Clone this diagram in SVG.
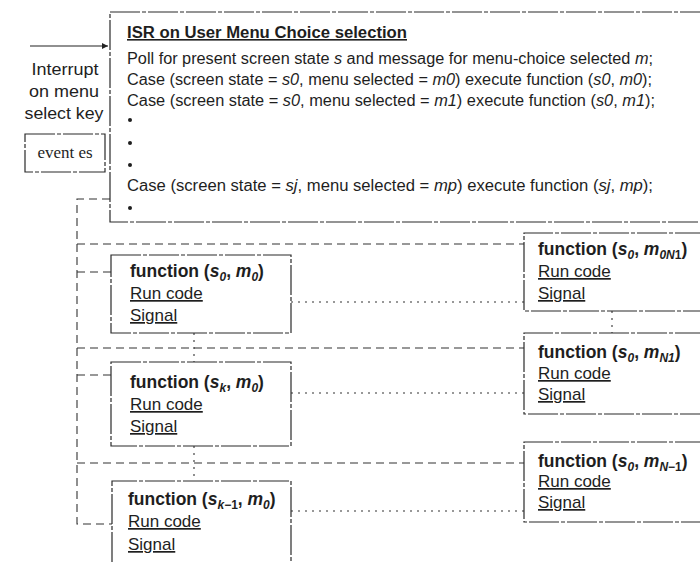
<svg xmlns="http://www.w3.org/2000/svg" width="700" height="562" viewBox="0 0 700 562">
<defs>
<style>
.t{font-family:"Liberation Sans",Arial,Helvetica,sans-serif;fill:#1e1e1e;}
.top{font-size:16px;}
.lbl{font-size:17px;}
.fn{font-size:17.5px;font-weight:bold;}
.rc{font-size:17px;text-decoration:underline;}
.i{font-style:italic;}
.sub{font-size:12px;}
.serif{font-family:"Liberation Serif","Times New Roman",serif;font-size:17px;fill:#1e1e1e;}
.box{fill:none;stroke:#2a2a2a;stroke-width:1.2;stroke-dasharray:30 2 4 2;}
.dash{fill:none;stroke:#333;stroke-width:1.1;stroke-dasharray:8 5;}
.dot{fill:none;stroke:#333;stroke-width:1.1;stroke-dasharray:2 5;}
.arrow{fill:none;stroke:#222;stroke-width:1.2;}
</style>
<marker id="ah" viewBox="0 0 10 10" refX="10" refY="5" markerWidth="7" markerHeight="6" markerUnits="userSpaceOnUse" orient="auto">
<path d="M0 0 L10 5 L0 10 Z" fill="#222"/>
</marker>
</defs>
<rect width="700" height="562" fill="#ffffff"/>

<g id="connectors">
<path class="arrow" d="M30 46 H108" marker-end="url(#ah)"/>
<path class="dash" d="M110 199 H77 V524 H112"/>
<path class="dash" d="M77 244 H524"/>
<path class="dash" d="M77 272 H111"/>
<path class="dash" d="M77 348 H524"/>
<path class="dash" d="M77 375 H111"/>
<path class="dash" d="M77 463 H524"/>
<path class="dot" d="M291 302 H524"/>
<path class="dot" d="M291 393 H524"/>
<path class="dot" d="M291 511 H524"/>
<path class="dot" d="M194 333 V362"/>
<path class="dot" d="M194 446 V481"/>
<path class="dot" d="M612 311 V333"/>
</g>

<g id="isr-box">
<path class="box" d="M710 12 H110 V222 H710"/>
<text class="t top" x="127" y="38" font-weight="bold" text-decoration="underline" textLength="280" lengthAdjust="spacingAndGlyphs">ISR on User Menu Choice selection</text>
<text class="t top" x="127" y="64" textLength="526" lengthAdjust="spacingAndGlyphs">Poll for present screen state <tspan class="i">s</tspan> and message for menu-choice selected <tspan class="i">m</tspan>;</text>
<text class="t top" x="127" y="85" textLength="525" lengthAdjust="spacingAndGlyphs">Case (screen state = <tspan class="i">s0</tspan>, menu selected = <tspan class="i">m0</tspan>) execute function (<tspan class="i">s0</tspan>, <tspan class="i">m0</tspan>);</text>
<text class="t top" x="127" y="106" textLength="528" lengthAdjust="spacingAndGlyphs">Case (screen state = <tspan class="i">s0</tspan>, menu selected = <tspan class="i">m1</tspan>) execute function (<tspan class="i">s0</tspan>, <tspan class="i">m1</tspan>);</text>
<circle cx="130" cy="120" r="2" fill="#1e1e1e"/>
<circle cx="130" cy="143" r="2" fill="#1e1e1e"/>
<circle cx="130" cy="165" r="2" fill="#1e1e1e"/>
<text class="t top" x="127" y="191" textLength="526" lengthAdjust="spacingAndGlyphs">Case (screen state = <tspan class="i">sj</tspan>, menu selected = <tspan class="i">mp</tspan>) execute function (<tspan class="i">sj</tspan>, <tspan class="i">mp</tspan>);</text>
<circle cx="130" cy="208" r="2" fill="#1e1e1e"/>
</g>

<g id="interrupt-label">
<text class="t lbl" x="65" y="75" text-anchor="middle" textLength="67" lengthAdjust="spacingAndGlyphs">Interrupt</text>
<text class="t lbl" x="64" y="97" text-anchor="middle" textLength="70" lengthAdjust="spacingAndGlyphs">on menu</text>
<text class="t lbl" x="64" y="119" text-anchor="middle" textLength="79" lengthAdjust="spacingAndGlyphs">select key</text>
</g>

<g id="event-es">
<rect class="box" x="25" y="134" width="80" height="38"/>
<text class="serif" x="65" y="158" text-anchor="middle">event es</text>
</g>

<g id="fn-s0-m0">
<rect class="box" x="111" y="255" width="180" height="78"/>
<text class="t fn" x="130" y="277">function (<tspan class="i">s</tspan><tspan class="sub i" dy="4">0</tspan><tspan dy="-4">, </tspan><tspan class="i">m</tspan><tspan class="sub i" dy="4">0</tspan><tspan dy="-4">)</tspan></text>
<text class="t rc" x="130" y="299">Run code</text>
<text class="t rc" x="130" y="321">Signal</text>
</g>

<g id="fn-sk-m0">
<rect class="box" x="111" y="362" width="180" height="84"/>
<text class="t fn" x="130" y="388">function (<tspan class="i">s</tspan><tspan class="sub i" dy="4">k</tspan><tspan dy="-4">, </tspan><tspan class="i">m</tspan><tspan class="sub i" dy="4">0</tspan><tspan dy="-4">)</tspan></text>
<text class="t rc" x="130" y="410">Run code</text>
<text class="t rc" x="130" y="432">Signal</text>
</g>

<g id="fn-sk1-m0">
<path class="box" d="M112 562 V481 H291 V562"/>
<text class="t fn" x="128" y="505">function (<tspan class="i">s</tspan><tspan class="sub i" dy="4">k</tspan><tspan class="sub">−1</tspan><tspan dy="-4">, </tspan><tspan class="i">m</tspan><tspan class="sub i" dy="4">0</tspan><tspan dy="-4">)</tspan></text>
<text class="t rc" x="128" y="527">Run code</text>
<text class="t rc" x="128" y="550">Signal</text>
</g>

<g id="fn-s0-m0N1">
<path class="box" d="M705 233 H524 V311 H705"/>
<text class="t fn" x="538" y="255">function (<tspan class="i">s</tspan><tspan class="sub i" dy="4">0</tspan><tspan dy="-4">, </tspan><tspan class="i">m</tspan><tspan class="sub i" dy="4">0N</tspan><tspan class="sub">1</tspan><tspan dy="-4">)</tspan></text>
<text class="t rc" x="538" y="277">Run code</text>
<text class="t rc" x="538" y="299">Signal</text>
</g>

<g id="fn-s0-mN1">
<path class="box" d="M705 333 H524 V414 H705"/>
<text class="t fn" x="538" y="358">function (<tspan class="i">s</tspan><tspan class="sub i" dy="4">0</tspan><tspan dy="-4">, </tspan><tspan class="i">m</tspan><tspan class="sub i" dy="4">N1</tspan><tspan dy="-4">)</tspan></text>
<text class="t rc" x="538" y="379">Run code</text>
<text class="t rc" x="538" y="400">Signal</text>
</g>

<g id="fn-s0-mN-1">
<path class="box" d="M705 442 H524 V522 H705"/>
<text class="t fn" x="538" y="467">function (<tspan class="i">s</tspan><tspan class="sub i" dy="4">0</tspan><tspan dy="-4">, </tspan><tspan class="i">m</tspan><tspan class="sub i" dy="4">N</tspan><tspan class="sub">−1</tspan><tspan dy="-4">)</tspan></text>
<text class="t rc" x="538" y="487">Run code</text>
<text class="t rc" x="538" y="508">Signal</text>
</g>
</svg>
